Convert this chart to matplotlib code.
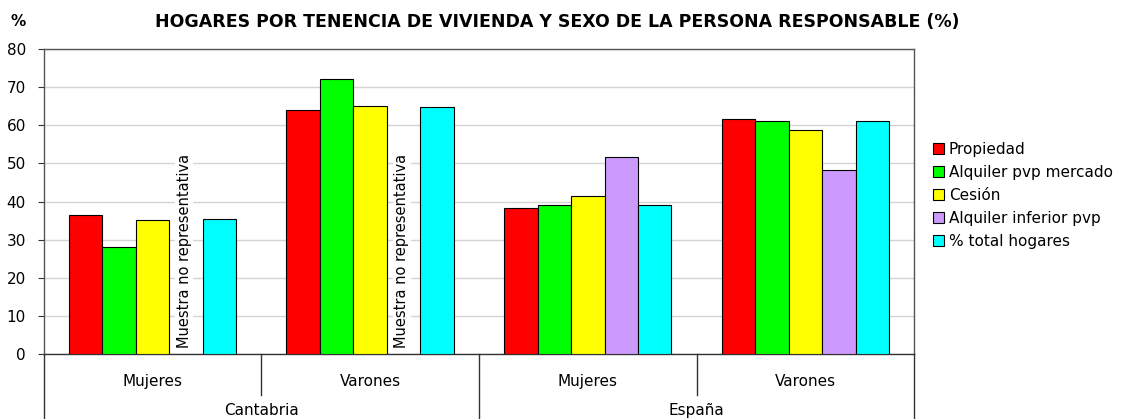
import numpy as np
import matplotlib.pyplot as plt
import matplotlib.transforms as mtransforms

plt.rcParams['font.family'] = ['DejaVu Sans']

# data
regions = ['Cantabria', 'España']
sexes = ['Mujeres', 'Varones', 'Mujeres', 'Varones']
series = ['Propiedad', 'Alquiler pvp mercado', 'Cesión', 'Alquiler inferior pvp', '% total hogares']
colors = ['#ff0000', '#00ff00', '#ffff00', '#cc99ff', '#00ffff']

propiedad = [36.4, 63.9, 38.3, 61.6]
alquiler_mercado = [28.1, 72.1, 39.2, 61.1]
cesion = [35.1, 65.1, 41.4, 58.8]
alquiler_inferior = [np.nan, np.nan, 51.7, 48.3]
total_hogares = [35.3, 64.8, 39.2, 61.1]
note = 'Muestra no representativa'

values = [propiedad, alquiler_mercado, cesion, alquiler_inferior, total_hogares]

fig = plt.figure(figsize=(11.24, 4.19), dpi=100)
ax = fig.add_axes([0.0391, 0.1551, 0.8132 - 0.0391, 0.883 - 0.1551])

x = np.arange(len(sexes))
w = 0.154
for i, (vals, c, name) in enumerate(zip(values, colors, series)):
    ax.bar(x + (i - 2) * w, vals, w, color=c, edgecolor='black', linewidth=0.8,
           label=name, zorder=3)

# note where the sample is too small
for j, v in enumerate(alquiler_inferior):
    if np.isnan(v):
        ax.text(x[j] + w - 0.01, 1.5, note, rotation=90, ha='center', va='bottom',
                fontsize=10.5, zorder=4,
                bbox=dict(facecolor='white', edgecolor='none', pad=1))

ax.set_xlim(-0.5, 3.5)
ax.set_ylim(0, 80)
ax.set_yticks(range(0, 81, 10))
ax.tick_params(axis='y', labelsize=11, length=4, color='#333333', pad=9)
ax.set_xticks([])
ax.grid(axis='y', color='#d4d4d4', linewidth=1, zorder=0)
for s in ax.spines.values():
    s.set_color('#555555')
    s.set_linewidth(1)
ax.spines['bottom'].set_color('#333333')

# two-level category axis
trans = mtransforms.blended_transform_factory(ax.transData, ax.transAxes)
for j, s in enumerate(sexes):
    ax.text(x[j], -0.089, s, transform=trans, ha='center', va='center', fontsize=11)
for k, r in enumerate(regions):
    ax.text(2 * k + 0.5, -0.184, r, transform=trans, ha='center', va='center', fontsize=11)
for b in [-0.5, 0.5, 1.5, 2.5, 3.5]:
    low = -0.134 if b in (0.5, 2.5) else -0.25
    ax.plot([b, b], [0, low], transform=trans, color='#333333', linewidth=1, clip_on=False)

fig.text(0.009, 0.948, '%', fontsize=11, fontweight='bold', va='center')
fig.text(0.4955, 0.948, 'HOGARES POR TENENCIA DE VIVIENDA Y SEXO DE LA PERSONA RESPONSABLE (%)',
         fontsize=12.5, fontweight='bold', ha='center', va='center')

fig.legend(loc='upper left', bbox_to_anchor=(0.8245, 0.676), frameon=False, fontsize=11,
           handlelength=0.7, handleheight=0.7, handletextpad=0.35, labelspacing=0.52,
           borderaxespad=0)

fig.savefig('out.png', dpi=100)
